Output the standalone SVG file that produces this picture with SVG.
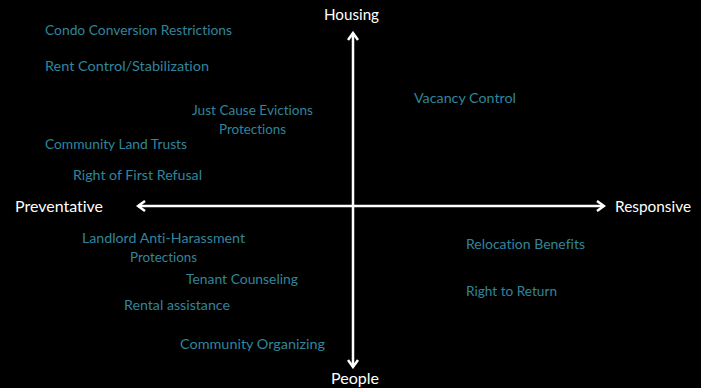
<svg xmlns="http://www.w3.org/2000/svg" width="701" height="388" viewBox="0 0 701 388">
<style>
.item{font-family:"Lato","Liberation Sans",sans-serif;font-size:14px;fill:#31859c;font-variant-ligatures:none}
.axis{font-family:"Lato","Liberation Sans",sans-serif;font-size:15px;fill:#ffffff;font-variant-ligatures:none}
.ax{stroke:#ffffff;stroke-width:2.5;fill:none}
</style>
<defs>
<marker id="chev" viewBox="0 0 12 12" refX="10" refY="6" markerWidth="12" markerHeight="12" markerUnits="userSpaceOnUse" orient="auto">
<path d="M3,1 L10,6 L3,11" fill="none" stroke="#ffffff" stroke-width="2.5"/>
</marker>
</defs>
<rect width="701" height="388" fill="#000000"/>
<g id="connectors">
<line class="ax" x1="353" y1="206" x2="353" y2="33" marker-end="url(#chev)"/>
<line class="ax" x1="353" y1="206" x2="353" y2="367" marker-end="url(#chev)"/>
<line class="ax" x1="353" y1="206" x2="604" y2="206" marker-end="url(#chev)"/>
<line class="ax" x1="353" y1="206" x2="138" y2="206" marker-end="url(#chev)"/>
</g>
<g id="axis-housing"><text class="axis" x="324" y="20" textLength="55" lengthAdjust="spacingAndGlyphs">Housing</text></g>
<g id="axis-people"><text class="axis" x="331" y="384" textLength="48" lengthAdjust="spacingAndGlyphs">People</text></g>
<g id="axis-preventative"><text class="axis" x="15" y="212" textLength="88" lengthAdjust="spacingAndGlyphs">Preventative</text></g>
<g id="axis-responsive"><text class="axis" x="615" y="212" textLength="76" lengthAdjust="spacingAndGlyphs">Responsive</text></g>
<g id="condo"><text class="item" x="45" y="35" textLength="187" lengthAdjust="spacingAndGlyphs">Condo Conversion Restrictions</text></g>
<g id="rent-control"><text class="item" x="45" y="71" textLength="164" lengthAdjust="spacingAndGlyphs">Rent Control/Stabilization</text></g>
<g id="just-cause"><text class="item" x="192" y="115" textLength="121" lengthAdjust="spacingAndGlyphs">Just Cause Evictions</text><text class="item" x="219" y="134" textLength="67" lengthAdjust="spacingAndGlyphs">Protections</text></g>
<g id="clt"><text class="item" x="45" y="149" textLength="142" lengthAdjust="spacingAndGlyphs">Community Land Trusts</text></g>
<g id="rofr"><text class="item" x="73" y="180" textLength="129" lengthAdjust="spacingAndGlyphs">Right of First Refusal</text></g>
<g id="vacancy"><text class="item" x="414" y="103" textLength="102" lengthAdjust="spacingAndGlyphs">Vacancy Control</text></g>
<g id="anti-harassment"><text class="item" x="82" y="243" textLength="163" lengthAdjust="spacingAndGlyphs">Landlord Anti-Harassment</text><text class="item" x="130" y="262" textLength="67" lengthAdjust="spacingAndGlyphs">Protections</text></g>
<g id="tenant-counseling"><text class="item" x="186" y="284" textLength="112" lengthAdjust="spacingAndGlyphs">Tenant Counseling</text></g>
<g id="rental-assistance"><text class="item" x="124" y="310" textLength="106" lengthAdjust="spacingAndGlyphs">Rental assistance</text></g>
<g id="organizing"><text class="item" x="180" y="349" textLength="145" lengthAdjust="spacingAndGlyphs">Community Organizing</text></g>
<g id="relocation"><text class="item" x="466" y="249" textLength="119" lengthAdjust="spacingAndGlyphs">Relocation Benefits</text></g>
<g id="return"><text class="item" x="466" y="296" textLength="91" lengthAdjust="spacingAndGlyphs">Right to Return</text></g>
</svg>
